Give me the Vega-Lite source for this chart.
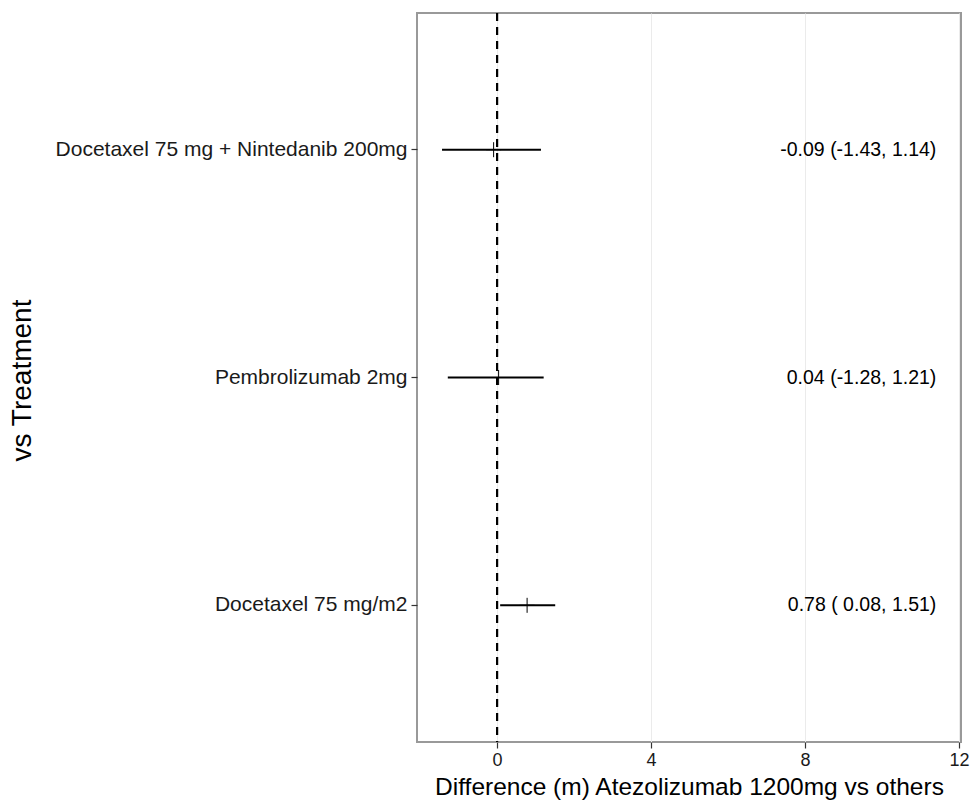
{
  "$schema": "https://vega.github.io/schema/vega-lite/v6.json",
  "autosize": {"type": "none"},
  "padding": {"left": 417, "top": 13, "right": 17, "bottom": 63},
  "width": 544,
  "height": 729,
  "background": "white",
  "config": {
    "font": "Liberation Sans",
    "view": {"stroke": "#999999", "strokeWidth": 2},
    "axis": {"gridColor": "#ebebeb", "gridWidth": 1, "domain": false, "tickColor": "#333333", "tickSize": 6, "tickWidth": 1.2, "labelColor": "#1a1a1a", "titleColor": "#000000", "titleFontWeight": "normal"}
  },
  "data": {"values": [
    {"treatment": "Docetaxel 75 mg + Nintedanib 200mg", "est": -0.09, "lo": -1.43, "hi": 1.14, "label": "-0.09 (-1.43, 1.14)"},
    {"treatment": "Pembrolizumab 2mg", "est": 0.04, "lo": -1.28, "hi": 1.21, "label": "0.04 (-1.28, 1.21)"},
    {"treatment": "Docetaxel 75 mg/m2", "est": 0.78, "lo": 0.08, "hi": 1.51, "label": "0.78 ( 0.08, 1.51)"}
  ]},
  "encoding": {
    "y": {
      "field": "treatment", "type": "nominal",
      "sort": ["Docetaxel 75 mg + Nintedanib 200mg", "Pembrolizumab 2mg", "Docetaxel 75 mg/m2"],
      "scale": {"paddingOuter": 0.1, "paddingInner": 0},
      "axis": {"title": "vs Treatment", "labelFontSize": 21, "labelLimit": 0, "labelPadding": 4, "titleFontSize": 28, "titleX": -395, "titleY": 367, "titleAngle": 270, "titleAlign": "center", "titleBaseline": "middle"}
    }
  },
  "layer": [
    {
      "mark": {"type": "rule", "color": "black", "strokeWidth": 2},
      "encoding": {
        "x": {"field": "lo", "type": "quantitative", "scale": {"domain": [-2.08, 12.05], "nice": false, "zero": false},
          "axis": {"title": "Difference (m) Atezolizumab 1200mg vs others", "values": [0, 4, 8, 12], "labelFontSize": 18, "labelBaseline": "alphabetic", "labelPadding": 17, "titleFontSize": 24.5, "titleBaseline": "alphabetic", "titleY": 52, "titleX": 272, "titleAlign": "center"}},
        "x2": {"field": "hi"}
      }
    },
    {
      "mark": {"type": "point", "shape": "M-1,0L1,0M0,-1L0,1", "color": "black", "filled": false, "strokeWidth": 1, "size": 225, "opacity": 1},
      "encoding": {"x": {"field": "est", "type": "quantitative"}}
    },
    {
      "mark": {"type": "rule", "color": "black", "strokeWidth": 2, "strokeDash": [8, 6]},
      "encoding": {"x": {"datum": 0}, "y": {"value": 0}, "y2": {"value": 729}}
    },
    {
      "mark": {"type": "text", "align": "right", "baseline": "middle", "fontSize": 19.5, "color": "black"},
      "encoding": {"x": {"datum": 11.41}, "text": {"field": "label"}}
    }
  ]
}
